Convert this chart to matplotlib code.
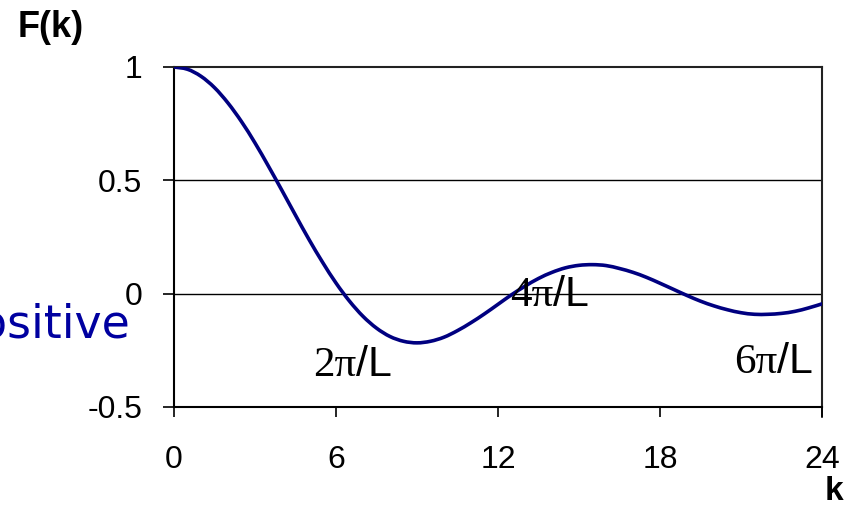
import numpy as np
import matplotlib.pyplot as plt
from matplotlib.path import Path
from matplotlib.patches import PathPatch

# form factor F(k), values read every half unit of k
k = np.arange(0, 24.5, 0.5)
F = [1.000, 0.990, 0.959, 0.909, 0.841, 0.759, 0.665, 0.562, 0.455, 0.346,
     0.239, 0.139, 0.047, -0.033, -0.100, -0.152, -0.189, -0.210, -0.217, -0.210,
     -0.192, -0.163, -0.128, -0.089, -0.047, -0.005, 0.033, 0.067, 0.094, 0.114,
     0.125, 0.128, 0.124, 0.111, 0.094, 0.072, 0.046, 0.019, -0.008, -0.033,
     -0.054, -0.071, -0.084, -0.091, -0.091, -0.087, -0.078, -0.063, -0.045]

xticks = [0, 6, 12, 18, 24]
yticks = [-0.5, 0, 0.5, 1]
ylabels = ['-0.5', '0', '0.5', '1']

# node labels: (k, F) where the serif part ends and "/L" starts
nodes = [('2\u03c0', 6.74, -0.362), ('4\u03c0', 14.04, -0.053), ('6\u03c0', 22.33, -0.349)]

sans = 'Liberation Sans'
serif = 'Liberation Serif'


def smooth_path(x, y):
    # spreadsheet-style smoothed line: cubic Bezier pieces through every point
    p = np.column_stack([x, y])
    ext = np.vstack([p[0], p, p[-1]])
    verts = [p[0]]
    codes = [Path.MOVETO]
    for i in range(len(p) - 1):
        p0, p1, p2, p3 = ext[i], ext[i + 1], ext[i + 2], ext[i + 3]
        verts += [p1 + (p2 - p0) / 6, p2 - (p3 - p1) / 6, p2]
        codes += [Path.CURVE4] * 3
    return Path(verts, codes)


fig = plt.figure(figsize=(8.57, 5.18), dpi=100)
ax = fig.add_axes([174/857, 1-407/518, (822-174)/857, (407-67)/518])

ax.add_patch(PathPatch(smooth_path(k, F), fill=False, edgecolor='#000080',
                       lw=2.6, capstyle='round', joinstyle='round', zorder=3))

ax.set_xlim(0, 24)
ax.set_ylim(-0.5, 1)
ax.set_xticks(xticks)
ax.set_xticklabels([str(t) for t in xticks], fontsize=23, family=sans)
ax.set_yticks(yticks)
ax.set_yticklabels(ylabels, fontsize=23, family=sans)
ax.tick_params(axis='x', direction='out', length=7, width=1.2, pad=20)
ax.tick_params(axis='y', direction='out', length=8, width=1.2, pad=15)

for y in [0, 0.5]:
    ax.axhline(y, color='black', lw=1.0, zorder=1)

for side in ['left', 'bottom']:
    ax.spines[side].set_linewidth(1.5)
for side in ['top', 'right']:
    ax.spines[side].set_linewidth(1.5)
    ax.spines[side].set_color('#222222')
# tick at right end of the k axis
ax.plot([24, 24], [-0.5, -0.545], color='black', lw=1.2, clip_on=False)

for num, x, y in nodes:
    ax.text(x, y, num, fontsize=31, family=serif, ha='right', va='baseline')
    ax.text(x, y, '/L', fontsize=31, family=sans, ha='left', va='baseline')

fig.text(18/857, 1-37/518, 'F(k)', fontsize=26, fontweight='bold', family=sans,
         va='baseline')
fig.text(843/857, 1-500/518, 'k', fontsize=24, fontweight='bold', family=sans,
         ha='right', va='baseline')
fig.text(131/857, 1-338/518, 'positive', fontsize=33, color='#0000a0',
         family='DejaVu Sans', ha='right', va='baseline')

fig.savefig('out.png', dpi=100)
